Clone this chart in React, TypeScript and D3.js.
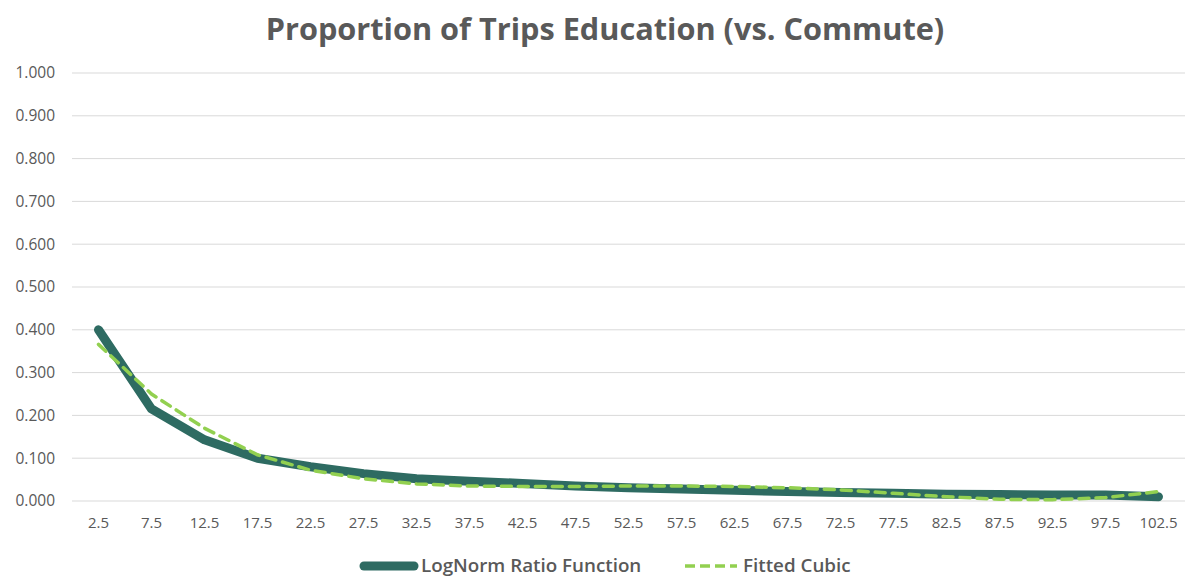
import React from 'react';
import * as d3 from 'd3';

const categories = ['2.5', '7.5', '12.5', '17.5', '22.5', '27.5', '32.5', '37.5', '42.5', '47.5', '52.5',
  '57.5', '62.5', '67.5', '72.5', '77.5', '82.5', '87.5', '92.5', '97.5', '102.5'];
const logNorm = [0.400, 0.215, 0.143, 0.100, 0.080, 0.064, 0.052, 0.046, 0.041, 0.035, 0.031,
  0.028, 0.025, 0.022, 0.020, 0.018, 0.016, 0.015, 0.014, 0.014, 0.010];
const fittedCubic = [0.366, 0.250, 0.170, 0.108, 0.072, 0.052, 0.040, 0.035, 0.034, 0.034, 0.035,
  0.035, 0.034, 0.031, 0.026, 0.018, 0.010, 0.004, 0.003, 0.008, 0.022];
const yTicks = [0, 0.1, 0.2, 0.3, 0.4, 0.5, 0.6, 0.7, 0.8, 0.9, 1.0];

const W = 1189;
const H = 579;
const margin = { top: 73, right: 4, bottom: 78, left: 72 };
const font = "'Open Sans', 'Liberation Sans', sans-serif";
const textColor = '#595959';
const legendY = 566;

const App: React.FC = () => {
  const x = d3.scaleBand<string>()
    .domain(categories)
    .range([margin.left, W - margin.right]);

  const y = d3.scaleLinear()
    .domain([0, 1])
    .range([H - margin.bottom, margin.top]);

  const cx = (c: string) => (x(c) || 0) + x.bandwidth() / 2;

  const line = d3.line<number>()
    .x((_, i) => cx(categories[i]))
    .y(d => y(d));

  return (
    <svg width={W} height={H} style={{ position: 'absolute', left: 0, top: 0, background: '#fff' }}>
      <text x={605} y={40} textAnchor="middle" fontFamily={font} fontWeight="bold"
        fontSize={30.7} fill={textColor}>Proportion of Trips Education (vs. Commute)</text>

      {yTicks.map(t => (
        <g key={t}>
          <line x1={margin.left} x2={W - margin.right} y1={y(t)} y2={y(t)} stroke="#d9d9d9" strokeWidth={1} />
          <text x={55} y={y(t)} dy="0.35em" textAnchor="end" fontFamily={font} fontSize={15.5} fill={textColor}>
            {t.toFixed(3)}
          </text>
        </g>
      ))}

      {categories.map(c => (
        <text key={c} x={cx(c)} y={528} textAnchor="middle" fontFamily={font} fontSize={15} fill={textColor}>{c}</text>
      ))}

      <path d={line(logNorm) || ''} fill="none" stroke="#2E6B62" strokeWidth={9}
        strokeLinejoin="round" strokeLinecap="round" />
      <path d={line(fittedCubic) || ''} fill="none" stroke="#92D050" strokeWidth={3.5}
        strokeDasharray="10,7" strokeLinecap="round" />

      <g>
        <line x1={364} x2={414} y1={legendY} y2={legendY} stroke="#2E6B62" strokeWidth={9} strokeLinecap="round" />
        <text x={421} y={legendY} dy="0.33em" fontFamily={font} fontSize={18.8} fontWeight={600} fill={textColor}>LogNorm Ratio Function</text>
        <line x1={685} x2={737} y1={legendY} y2={legendY} stroke="#92D050" strokeWidth={3.5} strokeDasharray="10,5" />
        <text x={743} y={legendY} dy="0.33em" fontFamily={font} fontSize={18.8} fontWeight={600} fill={textColor}>Fitted Cubic</text>
      </g>
    </svg>
  );
};

export default App;
